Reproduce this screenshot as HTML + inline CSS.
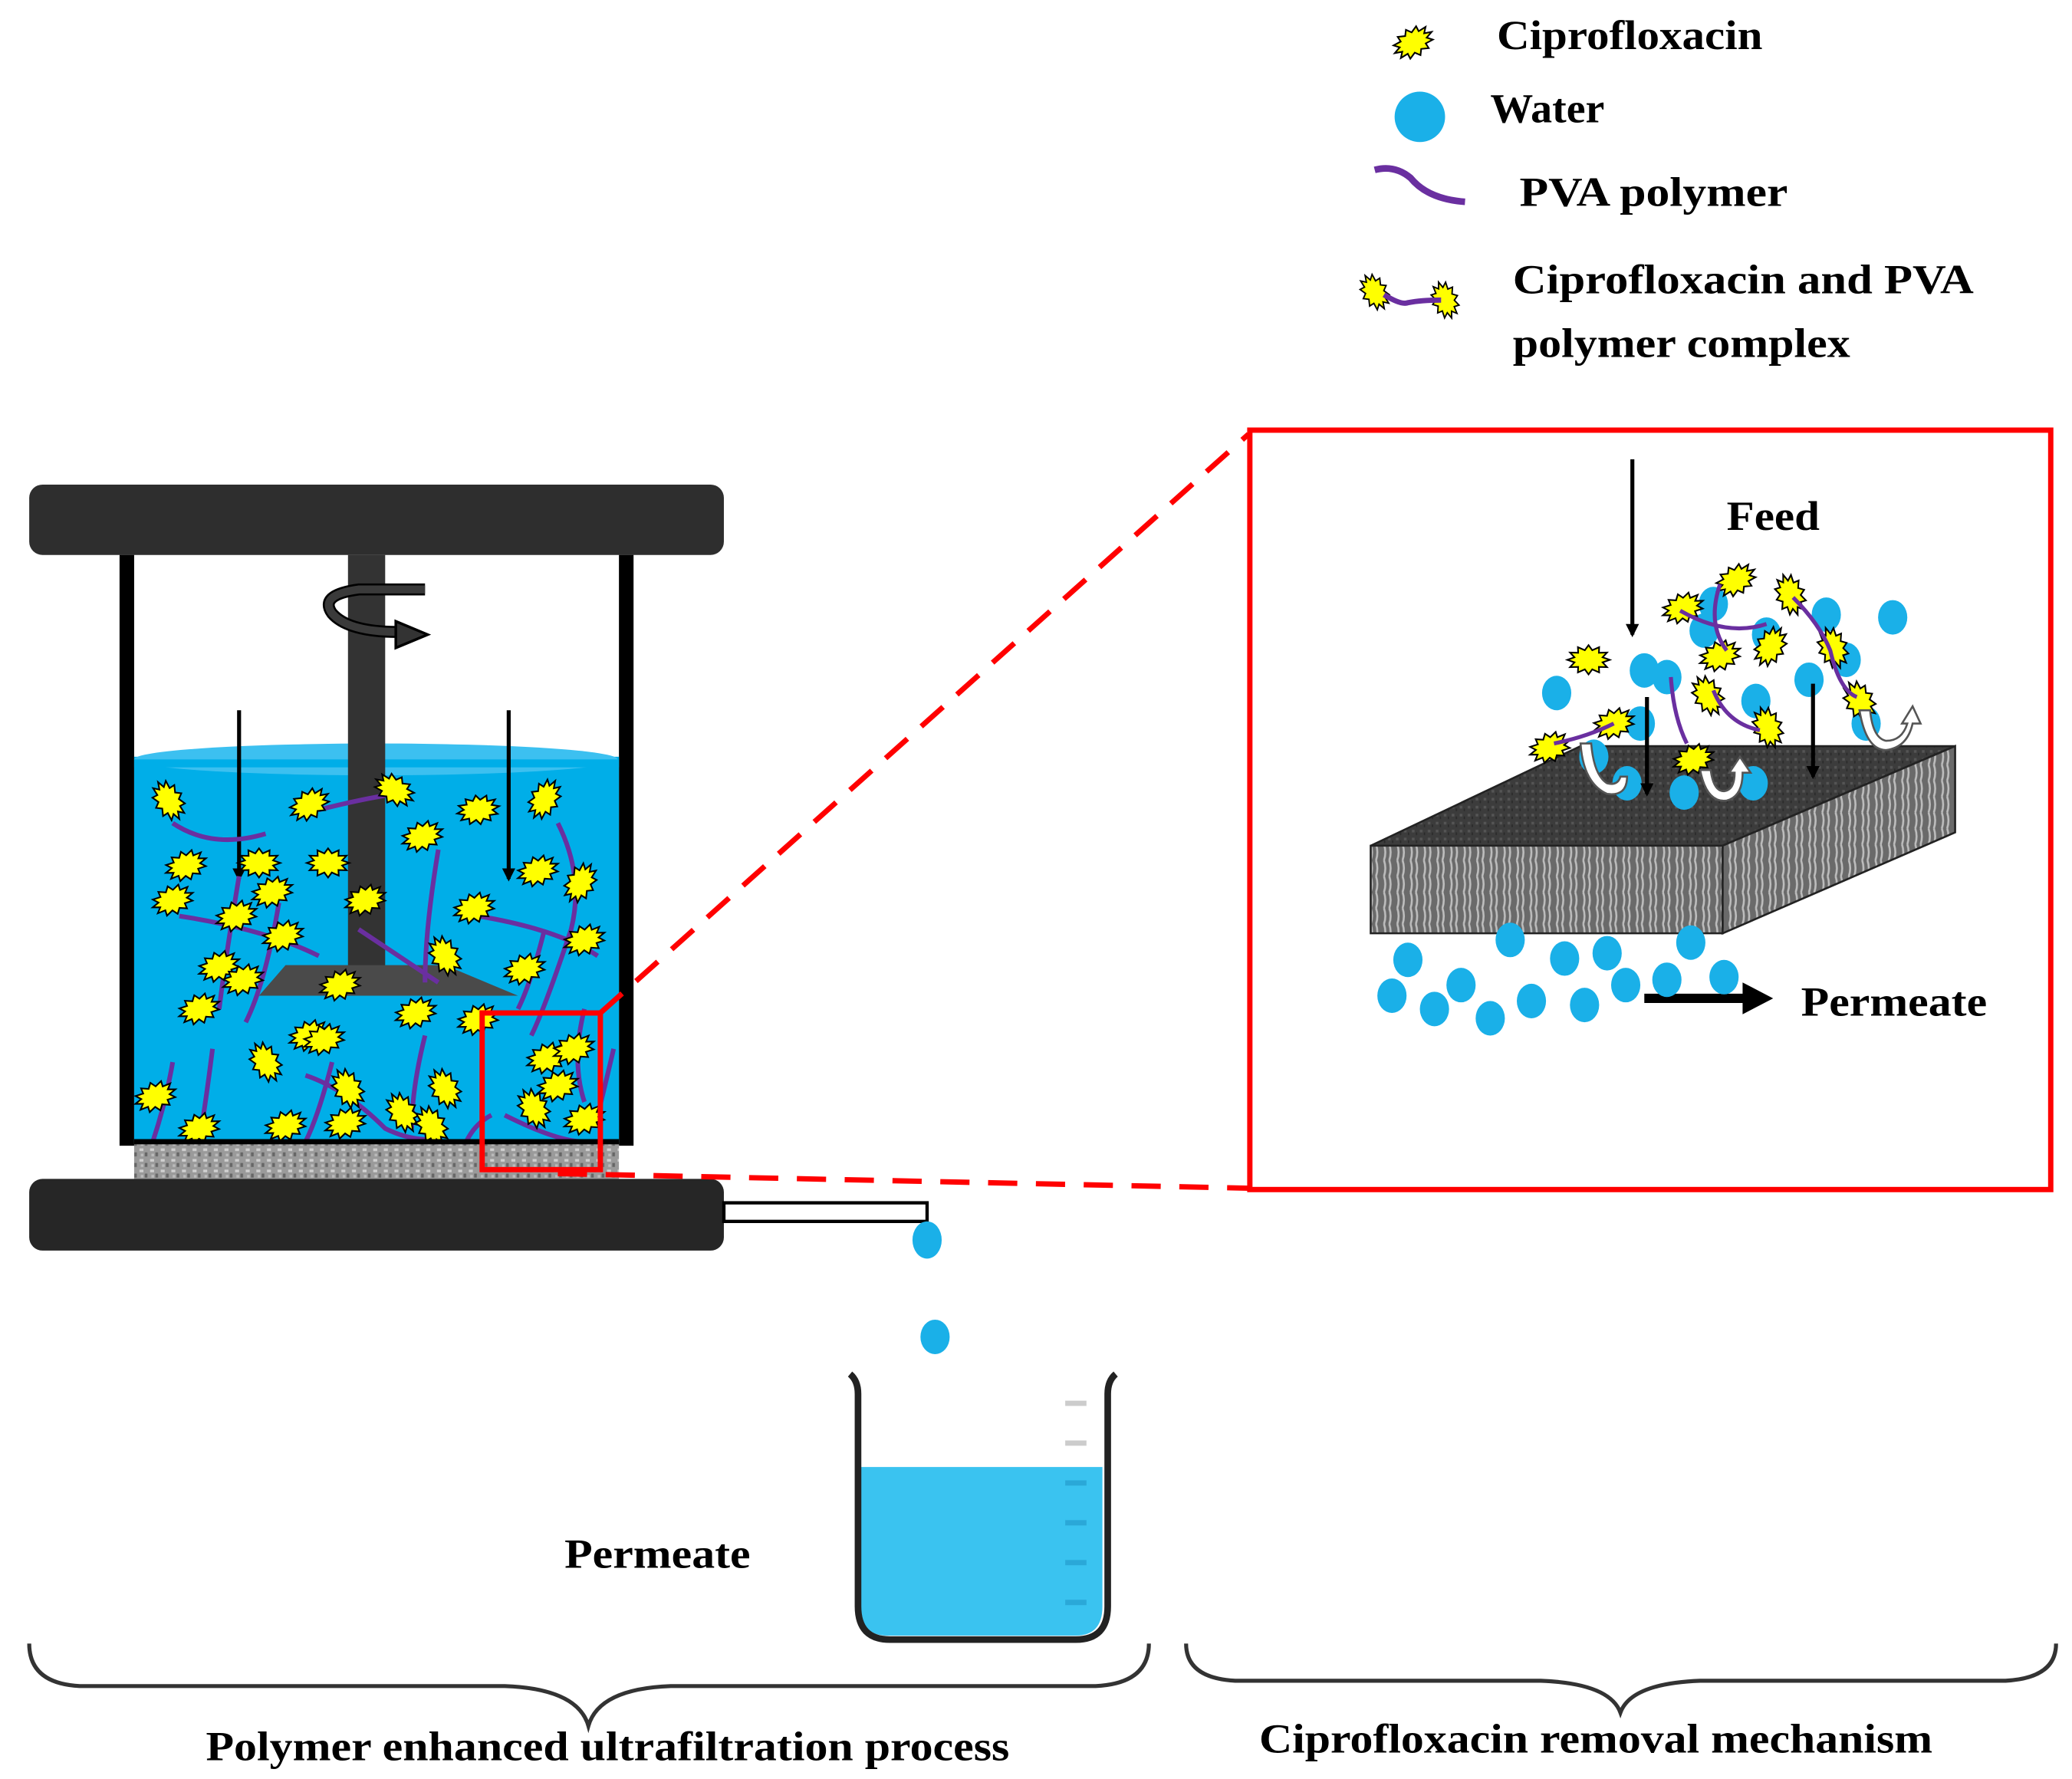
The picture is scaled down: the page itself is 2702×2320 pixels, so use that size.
<!DOCTYPE html>
<html><head><meta charset="utf-8"><style>
html,body{margin:0;padding:0;background:#fff;}
svg{display:block;}
text{font-family:"Liberation Serif",serif;font-weight:bold;fill:#000;}
</style></head><body>
<svg id="s" width="2702" height="2320" viewBox="0 0 1560 1340" preserveAspectRatio="none" xmlns="http://www.w3.org/2000/svg">
<defs>
<symbol id="p" viewBox="-16 -16 32 32" overflow="visible">
<polygon id="pp" fill="#ffff00" stroke="#000" stroke-width="1.2" stroke-linejoin="miter"/>
</symbol>
<pattern id="tex" width="8" height="8" patternUnits="userSpaceOnUse">
<rect width="8" height="8" fill="#9a9a9a"/><rect x="1" y="1" width="3" height="2" fill="#d0d0d0"/><rect x="5" y="4" width="2" height="3" fill="#666"/><rect x="2" y="5" width="2" height="2" fill="#bbb"/>
</pattern>
<pattern id="vt" width="10" height="12" patternUnits="userSpaceOnUse">
<rect width="10" height="12" fill="#6a6a6a"/><path d="M2 0 Q4 6 2 12 M6 0 Q8 6 6 12" stroke="#bdbdbd" stroke-width="1.5" fill="none"/>
</pattern>
<pattern id="top" width="6" height="6" patternUnits="userSpaceOnUse">
<rect width="6" height="6" fill="#3c3c3c"/><rect x="1" y="1" width="2" height="2" fill="#555"/><rect x="4" y="3" width="1" height="2" fill="#2a2a2a"/>
</pattern>
<marker id="ah" markerWidth="10" markerHeight="10" refX="8" refY="5" orient="auto" markerUnits="userSpaceOnUse"><path d="M0 0 L10 5 L0 10 Z" fill="#000"/></marker>
</defs>

<g id="legend"></g>
<ellipse cx="1069" cy="88" rx="19" ry="19" fill="#1ab0e8"/>
<path d="M1035 128 Q1050 124 1062 134 Q1075 150 1103 152" stroke="#6a2fa0" stroke-width="5" fill="none"/>
<path d="M1042 222 Q1055 230 1060 228 Q1070 226 1085 226" stroke="#6a2fa0" stroke-width="4" fill="none"/>
<text x="1127" y="37" font-size="31" textLength="200" lengthAdjust="spacingAndGlyphs">Ciprofloxacin</text>
<text x="1122" y="92" font-size="31" textLength="86" lengthAdjust="spacingAndGlyphs">Water</text>
<text x="1144" y="155" font-size="31" textLength="202" lengthAdjust="spacingAndGlyphs">PVA polymer</text>
<text x="1139" y="221" font-size="31" textLength="347" lengthAdjust="spacingAndGlyphs">Ciprofloxacin and PVA</text>
<text x="1139" y="269" font-size="31" textLength="254" lengthAdjust="spacingAndGlyphs">polymer complex</text>

<rect x="22" y="365" width="523" height="53" rx="10" fill="#2e2e2e"/>
<rect x="90" y="418" width="11" height="445" fill="#000"/>
<rect x="466" y="418" width="11" height="445" fill="#000"/>
<rect x="101" y="570" width="365" height="290" fill="#00aee8"/>
<ellipse cx="283" cy="572" rx="182" ry="12" fill="#3cc0f0"/>
<rect x="101" y="572" width="365" height="6" fill="#00aee8"/>
<rect x="262" y="418" width="28" height="320" fill="#333"/>
<polygon points="215,727 335,727 390,750 195,750" fill="#4a4a4a"/>
<path d="M320 444 L270 444 Q240 448 250 462 Q262 476 300 476" stroke="#000" stroke-width="9" fill="none"/>
<path d="M320 444 L270 444 Q240 448 250 462 Q262 476 300 476" stroke="#3a3a3a" stroke-width="6" fill="none"/>
<polygon points="298,468 322,478 298,488" fill="#333" stroke="#000" stroke-width="2"/>
<line x1="180" y1="535" x2="180" y2="662" stroke="#000" stroke-width="3" marker-end="url(#ah)"/>
<line x1="383" y1="535" x2="383" y2="662" stroke="#000" stroke-width="3" marker-end="url(#ah)"/>
<g id="poly1" stroke="#6a2fa0" stroke-width="3.5" fill="none">
<path d="M130 620 Q160 640 200 628"/><path d="M240 610 Q280 600 300 598"/>
<path d="M180 660 Q170 720 165 760"/><path d="M135 690 Q200 700 240 720"/>
<path d="M210 680 Q200 740 185 770"/><path d="M330 640 Q320 700 320 740"/>
<path d="M270 700 Q300 720 330 740"/><path d="M360 690 Q420 700 450 720"/>
<path d="M420 620 Q440 660 430 700 Q410 760 400 780"/><path d="M410 700 Q400 740 390 760"/>
<path d="M130 800 Q125 830 115 860"/><path d="M160 790 Q155 830 150 860"/>
<path d="M230 810 Q260 820 290 850 Q310 860 330 858"/><path d="M250 800 Q240 840 230 860"/>
<path d="M320 780 Q310 820 310 850"/><path d="M370 840 Q350 850 345 880"/>
<path d="M380 840 Q420 860 440 860"/><path d="M440 760 Q430 800 440 830"/><path d="M462 790 Q455 820 450 840"/>
</g>
<g id="tank"></g>
<rect x="101" y="858" width="365" height="4" fill="#000"/>
<rect x="101" y="862" width="365" height="26" fill="url(#tex)"/>
<rect x="22" y="888" width="523" height="54" rx="10" fill="#262626"/>
<rect x="545" y="906" width="153" height="14" fill="#fff" stroke="#000" stroke-width="2.5"/>
<ellipse cx="698" cy="934" rx="11" ry="14" fill="#1ab0e8"/>
<ellipse cx="704" cy="1007" rx="11" ry="13" fill="#1ab0e8"/>

<path d="M648 1105 L830 1105 L830 1210 Q830 1232 810 1232 L668 1232 Q648 1232 648 1210 Z" fill="#3ac3f0"/>
<path d="M640 1035 Q646 1040 646 1050 L646 1210 Q646 1235 670 1235 L810 1235 Q834 1235 834 1210 L834 1050 Q834 1040 840 1035" stroke="#222" stroke-width="5" fill="none"/>
<g stroke="#ccc" stroke-width="4"><line x1="802" y1="1057" x2="818" y2="1057"/><line x1="802" y1="1087" x2="818" y2="1087"/><line x1="802" y1="1117" x2="818" y2="1117" stroke="#2aa8d8"/><line x1="802" y1="1147" x2="818" y2="1147" stroke="#2aa8d8"/><line x1="802" y1="1177" x2="818" y2="1177" stroke="#2aa8d8"/><line x1="802" y1="1207" x2="818" y2="1207" stroke="#2aa8d8"/></g>
<text x="425" y="1181" font-size="31" textLength="140" lengthAdjust="spacingAndGlyphs">Permeate</text>

<rect x="363" y="763" width="89" height="118" fill="none" stroke="#ff0000" stroke-width="4"/>
<line x1="452" y1="763" x2="940" y2="327" stroke="#ff0000" stroke-width="4" stroke-dasharray="22,14"/>
<line x1="420" y1="884" x2="940" y2="895" stroke="#ff0000" stroke-width="4" stroke-dasharray="22,14"/>
<rect x="941" y="324" width="603" height="572" fill="#fff" stroke="#ff0000" stroke-width="4"/>

<line x1="1229" y1="346" x2="1229" y2="478" stroke="#000" stroke-width="3" marker-end="url(#ah)"/>
<text x="1300" y="399" font-size="31" textLength="70" lengthAdjust="spacingAndGlyphs">Feed</text>
<polygon points="1032,637 1297,637 1472,562 1190,562" fill="url(#top)" stroke="#222" stroke-width="1.5"/>
<polygon points="1032,637 1297,637 1297,703 1032,703" fill="url(#vt)" stroke="#222" stroke-width="1.5"/>
<polygon points="1297,637 1472,562 1472,627 1297,703" fill="url(#vt)" stroke="#222" stroke-width="1.5"/>
<g id="mech"></g>
<g stroke="#6a2fa0" stroke-width="3" fill="none">
<path d="M1295 440 Q1285 470 1300 490"/><path d="M1265 460 Q1300 480 1330 470"/><path d="M1350 450 Q1370 470 1378 490 Q1385 520 1398 525"/>
<path d="M1258 510 Q1260 540 1270 560"/><path d="M1290 520 Q1300 545 1325 550"/><path d="M1170 560 Q1195 555 1215 545"/>
</g>
<g stroke="#000" stroke-width="3"><line x1="1240" y1="525" x2="1240" y2="598" marker-end="url(#ah)"/><line x1="1365" y1="515" x2="1365" y2="585" marker-end="url(#ah)"/></g>
<g fill="#fff" stroke="#555" stroke-width="1.5">
<path d="M1190 560 Q1192 590 1210 598 Q1225 600 1225 585 L1220 585 Q1218 592 1210 590 Q1200 584 1198 560 Z"/>
<path d="M1280 580 Q1285 605 1300 603 Q1312 600 1312 582 L1318 582 L1310 570 L1302 582 L1306 582 Q1306 595 1298 596 Q1290 596 1288 580 Z"/>
<path d="M1400 535 Q1405 565 1420 565 Q1436 563 1440 545 L1446 545 L1440 532 L1432 545 L1436 545 Q1432 558 1420 558 Q1410 556 1408 535 Z"/>
</g>
<text x="1356" y="765" font-size="31" textLength="140" lengthAdjust="spacingAndGlyphs">Permeate</text>
<line x1="1238" y1="752" x2="1315" y2="752" stroke="#000" stroke-width="7"/>
<polygon points="1312,740 1335,752 1312,764" fill="#000"/>

<path d="M22 1238 Q22 1268 60 1270 L380 1270 Q435 1272 443 1300 Q451 1272 505 1270 L825 1270 Q865 1268 865 1238" stroke="#333" stroke-width="3" fill="none"/>
<path d="M893 1238 Q893 1264 930 1266 L1160 1266 Q1212 1268 1220 1290 Q1228 1268 1280 1266 L1510 1266 Q1548 1264 1548 1238" stroke="#333" stroke-width="3" fill="none"/>
<text x="155" y="1326" font-size="31" textLength="605" lengthAdjust="spacingAndGlyphs">Polymer enhanced ultrafiltration process</text>
<text x="948" y="1320" font-size="31" textLength="507" lengthAdjust="spacingAndGlyphs">Ciprofloxacin removal mechanism</text>
</svg>
<script>
(function(){
var pts=[];var n=12;
for(var i=0;i<n*2;i++){var a=Math.PI*i/n;var rx=(i%2?11:16),ry=(i%2?7.5:11);pts.push((rx*Math.cos(a)).toFixed(1)+","+(ry*Math.sin(a)).toFixed(1));}
document.getElementById('pp').setAttribute('points',pts.join(' '));
var NS="http://www.w3.org/2000/svg";
function put(g,x,y,r,s){var u=document.createElementNS(NS,'use');u.setAttribute('href','#p');u.setAttribute('x',-16);u.setAttribute('y',-16);u.setAttribute('width',32);u.setAttribute('height',32);u.setAttribute('transform','translate('+x+','+y+') rotate('+r+') scale('+(s||1)+')');g.appendChild(u);}
function drop(g,x,y,rx,ry){var e=document.createElementNS(NS,'ellipse');e.setAttribute('cx',x);e.setAttribute('cy',y);e.setAttribute('rx',rx||11);e.setAttribute('ry',ry||13);e.setAttribute('fill','#1ab0e8');g.appendChild(e);}
var t=document.getElementById('tank');
var P=[[127,603,60],[233,606,-30],[297,595,30],[360,610,-10],[410,602,-60],[318,630,-20],[140,652,-20],[195,650,0],[247,650,0],[130,678,-20],[205,672,-20],[178,690,-20],[275,678,-20],[357,684,-20],[405,656,-20],[437,665,-60],[440,708,-20],[395,730,-20],[213,705,-20],[165,728,-20],[150,760,-20],[183,738,-20],[256,742,-20],[233,780,-20],[313,763,-20],[360,768,-20],[335,720,60],[200,800,60],[244,783,-20],[262,820,60],[303,838,60],[412,797,-20],[420,818,-20],[402,835,60],[335,820,60],[117,826,-20],[150,850,-20],[215,848,-20],[260,846,-20],[325,848,60],[440,843,-20],[432,790,-20]];
P.forEach(function(p){put(t,p[0],p[1],p[2]);});
var l=document.getElementById('legend');
put(l,1064,32,-30);put(l,1035,220,60,0.9);put(l,1088,226,70,0.9);
var m=document.getElementById('mech');
[[1283,475],[1255,510],[1330,478],[1375,463],[1425,465],[1172,522],[1238,505],[1362,512],[1322,528],[1390,497],[1235,545],[1225,590],[1268,597],[1320,590],[1405,545],[1290,455],[1200,570]].forEach(function(d){drop(m,d[0],d[1],11,13);});
[[1196,497,0],[1307,437,-30],[1348,448,70],[1267,458,-20],[1295,494,-20],[1333,487,-60],[1380,488,70],[1286,524,60],[1331,548,70],[1215,545,-20],[1167,563,-20],[1275,572,-20],[1400,528,60]].forEach(function(p){put(m,p[0],p[1],p[2]);});
var b=document.getElementById('s');var g2=document.createElementNS(NS,'g');b.appendChild(g2);
[[1060,723],[1137,708],[1178,722],[1210,718],[1273,710],[1048,750],[1080,760],[1100,742],[1122,767],[1153,754],[1193,757],[1224,742],[1255,738],[1298,736]].forEach(function(d){drop(g2,d[0],d[1],11,13);});
})();
</script>
</body></html>
